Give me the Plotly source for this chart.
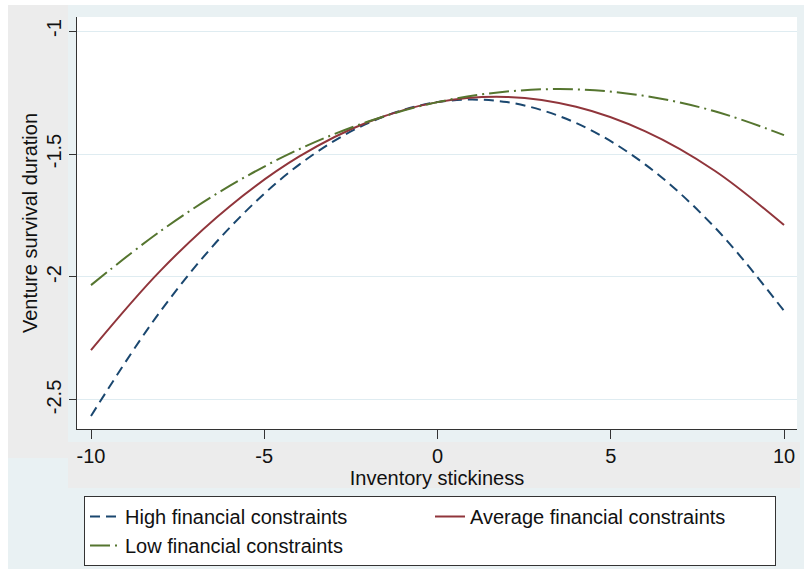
import plotly.graph_objects as go

x_vals = [-10, -8, -6, -4, -2, 0, 2, 4, 6, 8, 10]
high_fc = [-2.565, -2.140, -1.800, -1.544, -1.374, -1.289, -1.289, -1.374, -1.543, -1.798, -2.138]
avg_fc = [-2.297, -1.975, -1.713, -1.511, -1.370, -1.289, -1.268, -1.308, -1.408, -1.568, -1.789]
low_fc = [-2.033, -1.814, -1.630, -1.481, -1.368, -1.289, -1.246, -1.237, -1.264, -1.326, -1.423]

x_ticks = [-10, -5, 0, 5, 10]
x_tick_text = ["-10", "-5", "0", "5", "10"]
y_ticks = [-2.5, -2, -1.5, -1]
y_tick_text = ["-2.5", "-2", "-1.5", "-1"]

W, H = 804, 569
L, R, T, B = 77, 797, 17, 429
pw, ph = R - L, B - T

def px(xp):
    return (xp - L) / pw

def py(yp):
    return (B - yp) / ph

FONT = "Liberation Sans, Arial, sans-serif"

fig = go.Figure()
fig.add_trace(go.Scatter(x=x_vals, y=high_fc, mode="lines", name="High financial constraints",
                         line=dict(color="#1a476f", width=2, dash="10px,6px", shape="spline")))
fig.add_trace(go.Scatter(x=x_vals, y=avg_fc, mode="lines", name="Average financial constraints",
                         line=dict(color="#90353b", width=2, shape="spline")))
fig.add_trace(go.Scatter(x=x_vals, y=low_fc, mode="lines", name="Low financial constraints",
                         line=dict(color="#55752f", width=2, dash="20px,5px,2px,5px", shape="spline")))

shapes = [
    dict(type="rect", xref="paper", yref="paper", x0=px(0), x1=px(W), y0=py(0), y1=py(5),
         fillcolor="#ffffff", line=dict(width=0), layer="below"),
    dict(type="rect", xref="paper", yref="paper", x0=px(0), x1=px(8), y0=py(0), y1=py(H),
         fillcolor="#ffffff", line=dict(width=0), layer="below"),
    dict(type="rect", xref="paper", yref="paper", x0=px(8), x1=px(68), y0=py(5), y1=py(458),
         fillcolor="#ececec", line=dict(width=0), layer="below"),
    dict(type="rect", xref="paper", yref="paper", x0=px(68), x1=px(800), y0=py(442), y1=py(488),
         fillcolor="#ececec", line=dict(width=0), layer="below"),
]

fig.update_layout(
    width=W, height=H,
    margin=dict(l=L, r=W - R, t=T, b=H - B, pad=0, autoexpand=False),
    paper_bgcolor="#e9f1f3",
    plot_bgcolor="#ffffff",
    font=dict(family=FONT, size=20, color="#111111"),
    shapes=shapes,
    showlegend=True,
    legend=dict(
        orientation="h",
        x=px(84), xanchor="left",
        y=py(496), yanchor="top",
        bgcolor="#ffffff", bordercolor="#333333", borderwidth=1,
        entrywidth=300, entrywidthmode="pixels",
        font=dict(family=FONT, size=20, color="#111111"),
        traceorder="normal",
    ),
)

fig.update_xaxes(
    range=[-10.404, 10.375],
    tickvals=x_ticks, ticktext=x_tick_text,
    ticks="outside", ticklen=9, tickcolor="#333333", tickwidth=1,
    showline=True, linecolor="#333333", linewidth=1,
    showgrid=False, zeroline=False, automargin=False,
    title=dict(text="Inventory stickiness", standoff=0, font=dict(size=20)),
    tickfont=dict(size=20),
)
fig.update_yaxes(
    range=[-2.618, -0.943],
    tickvals=y_ticks, ticktext=y_tick_text, tickangle=-90,
    ticks="outside", ticklen=7, tickcolor="#333333", tickwidth=1,
    showline=True, linecolor="#333333", linewidth=1,
    showgrid=True, gridcolor="#dfecf1", gridwidth=1,
    zeroline=False, automargin=False,
    title=dict(text="Venture survival duration", standoff=0, font=dict(size=20)),
    tickfont=dict(size=20),
)

fig.write_html("out.html", config={"displayModeBar": False},
               post_script="document.body.style.margin='0px';document.body.style.padding='0px';")
